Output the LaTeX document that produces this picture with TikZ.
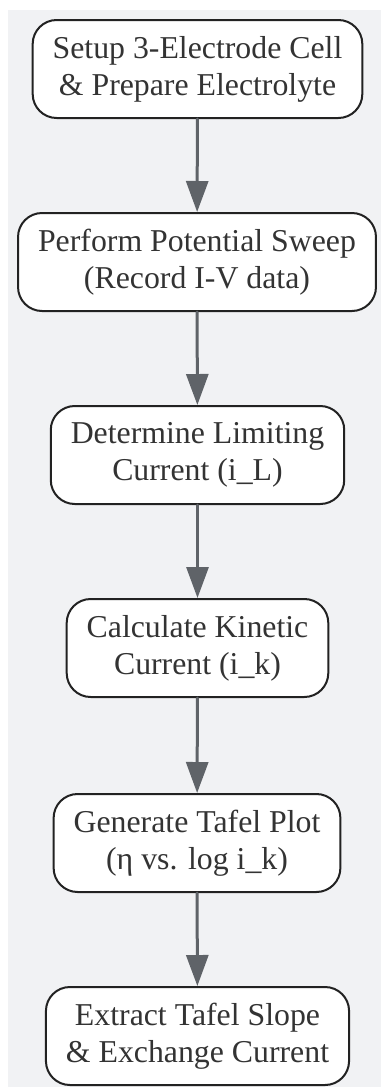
\documentclass[tikz,border=0pt]{standalone}
\usepackage{fontspec}
\setmainfont{Liberation Serif}
\usetikzlibrary{arrows.meta}
\definecolor{bgc}{RGB}{241,242,244}
\definecolor{arrc}{RGB}{95,99,104}
\definecolor{txtc}{RGB}{51,51,51}
\definecolor{brdc}{RGB}{34,34,34}

\begin{document}
\begin{tikzpicture}[x=0.5pt,y=-0.5pt,line cap=round,line join=round,>={Triangle[length=15.5pt,width=11pt]},
  stepbox/.style={draw=brdc,line width=1pt,fill=white,rounded corners=12pt,align=center,
    text=txtc,inner xsep=10pt,inner ysep=6pt,minimum height=49pt,
    execute at begin node=\rule{0pt}{14.8pt},
    font=\fontsize{15.9}{18.5}\selectfont},
  flow/.style={->,draw=arrc,fill=arrc,line width=1.5pt}]
\useasboundingbox (0,0) rectangle (381,1087);
\fill[bgc] (8,10) rectangle (381,1087);
\node[stepbox] (setup) at (197.5,69) {Setup 3-Electrode Cell\\\& Prepare Electrolyte};
\node[stepbox] (sweep) at (197,262) {Perform Potential Sweep\\(Record I-V data)};
\node[stepbox] (limit) at (197.5,455) {Determine Limiting\\Current (i\_L)};
\node[stepbox] (kinet) at (197.5,648) {Calculate Kinetic\\Current (i\_k)};
\node[stepbox] (tafel) at (197,843) {Generate Tafel Plot\\(η vs. log i\_k)};
\node[stepbox] (slope) at (197.5,1036) {Extract Tafel Slope\\\& Exchange Current};
\draw[flow] (setup) -- (sweep);
\draw[flow] (sweep) -- (limit);
\draw[flow] (limit) -- (kinet);
\draw[flow] (kinet) -- (tafel);
\draw[flow] (tafel) -- (slope);
\end{tikzpicture}
\end{document}
